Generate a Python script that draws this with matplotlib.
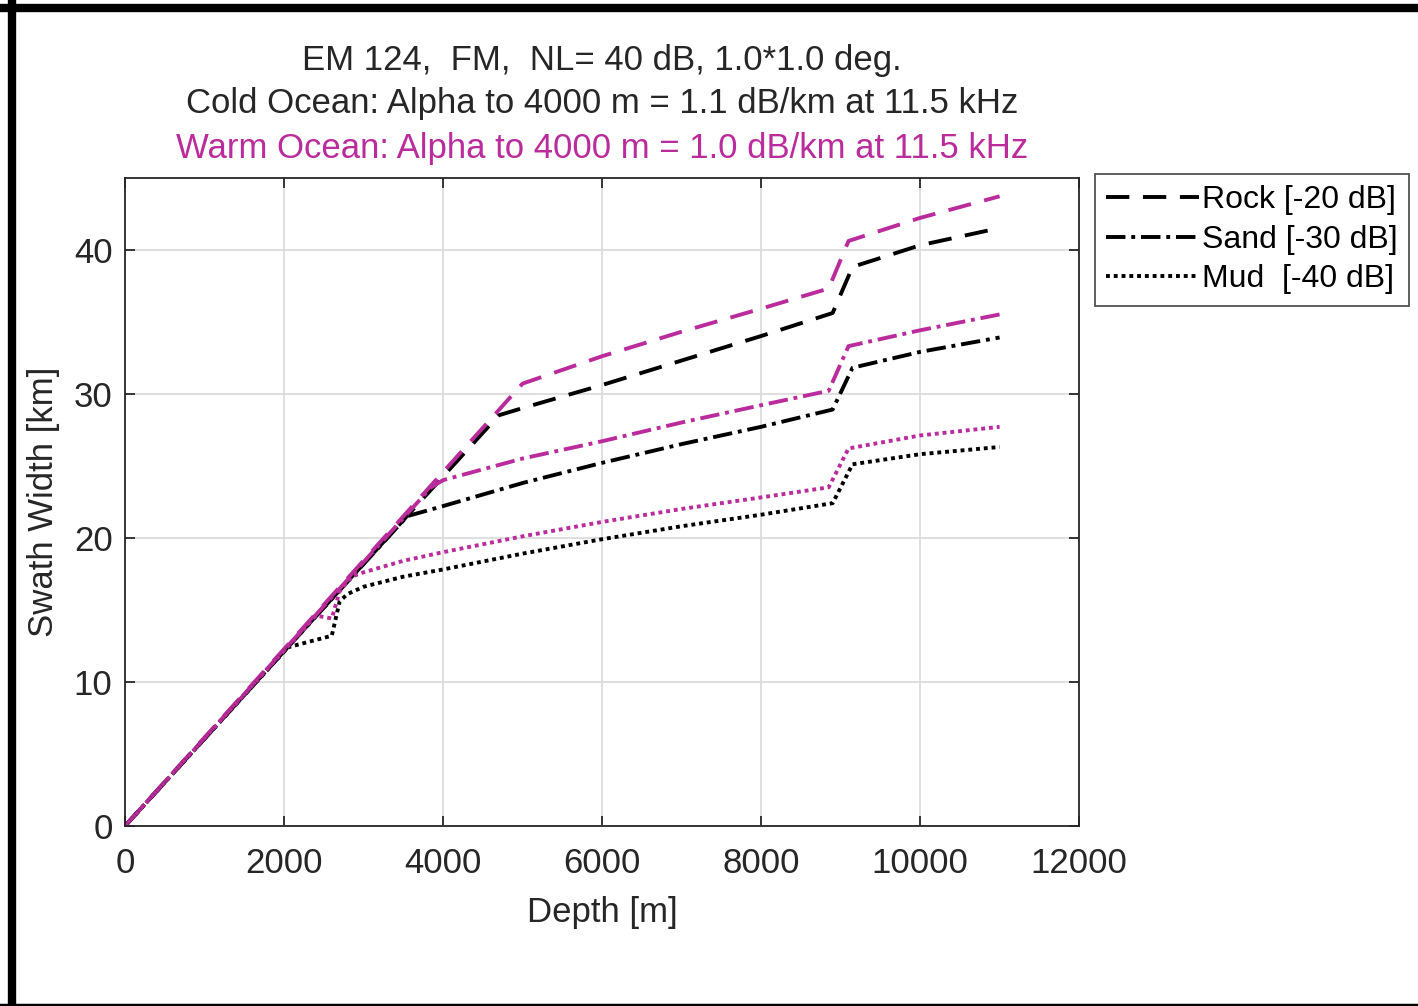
import numpy as np
import matplotlib.pyplot as plt
from matplotlib.lines import Line2D

# depth [m] / swath width [km]
rock_cold_x = [0, 4700, 5000, 6000, 7000, 8000, 8900, 9150, 10000, 11000]
rock_cold_y = [0, 28.5, 29.0, 30.6, 32.3, 34.0, 35.6, 38.8, 40.3, 41.5]
rock_warm_x = [0, 5000, 6000, 7000, 8000, 8850, 9100, 10000, 11000]
rock_warm_y = [0, 30.7, 32.6, 34.3, 35.9, 37.3, 40.6, 42.2, 43.7]

sand_cold_x = [0, 3550, 4000, 5000, 6000, 7000, 8000, 8900, 9150, 10000, 11000]
sand_cold_y = [0, 21.5, 22.2, 23.8, 25.2, 26.5, 27.7, 28.9, 31.8, 32.9, 33.9]
sand_warm_x = [0, 3850, 4000, 5000, 6000, 7000, 8000, 8850, 9100, 10000, 11000]
sand_warm_y = [0, 23.5, 24.0, 25.5, 26.7, 28.0, 29.2, 30.2, 33.3, 34.4, 35.5]

mud_cold_x = [0, 2050, 2600, 2700, 2800, 3000, 3500, 4000, 5000, 6000, 7000, 8000, 8900, 9150, 10000, 11000]
mud_cold_y = [0, 12.4, 13.2, 15.6, 16.1, 16.6, 17.3, 17.8, 18.9, 19.9, 20.8, 21.6, 22.4, 25.1, 25.8, 26.3]
mud_warm_x = [0, 2400, 2600, 2700, 2850, 3000, 3500, 4000, 5000, 6000, 7000, 8000, 8850, 9100, 10000, 11000]
mud_warm_y = [0, 14.6, 14.4, 16.3, 17.3, 17.6, 18.4, 19.0, 20.1, 21.1, 22.0, 22.8, 23.5, 26.2, 27.1, 27.7]

labels = ['Rock [-20 dB]', 'Sand [-30 dB]', 'Mud  [-40 dB]']

plt.rcParams['font.family'] = ['Liberation Sans', 'DejaVu Sans']
magenta = '#BA2B9B'
dark = '#262626'
fs = 25
lw = 2.8
styles = [(0, (6, 3.5)), (0, (5, 1.5, 1, 1.5)), (0, (1, 1))]

fig = plt.figure(figsize=(14.18, 10.06), dpi=100)
ax = fig.add_axes([0.0882, 0.179, 0.6728, 0.6445])

series = [(rock_cold_x, rock_cold_y, rock_warm_x, rock_warm_y),
          (sand_cold_x, sand_cold_y, sand_warm_x, sand_warm_y),
          (mud_cold_x, mud_cold_y, mud_warm_x, mud_warm_y)]
for (cx, cy, wx, wy), ls in zip(series, styles):
    ax.plot(cx, cy, color='black', lw=lw, linestyle=ls)
    ax.plot(wx, wy, color=magenta, lw=lw, linestyle=ls)

ax.set_xlim(0, 12000)
ax.set_ylim(0, 45)
ax.set_xticks(np.arange(0, 12001, 2000))
ax.set_yticks(np.arange(0, 41, 10))
ax.grid(True, color='#dcdcdc', lw=1.3)
ax.set_axisbelow(True)
ax.tick_params(direction='in', length=7, width=1.3, top=True, right=True,
               labelsize=fs, colors=dark, pad=9)
ax.tick_params(axis='x', pad=15)
for s in ax.spines.values():
    s.set_color(dark)
    s.set_linewidth(1.3)
ax.set_xlabel('Depth [m]', fontsize=fs, color=dark, labelpad=12)
ax.set_ylabel('Swath Width [km]', fontsize=fs, color=dark, labelpad=10)

handles = [Line2D([], [], color='black', lw=lw, linestyle=ls) for ls in styles]
leg = fig.legend(handles, labels, loc='upper left', bbox_to_anchor=(0.772, 0.827),
                 fontsize=23, frameon=True, fancybox=False, edgecolor=dark,
                 handlelength=2.9, handletextpad=0.12, borderpad=0.35,
                 labelspacing=0.3, borderaxespad=0)
leg.get_frame().set_linewidth(1.3)

fig.text(0.4245, 0.940, 'EM 124,  FM,  NL= 40 dB, 1.0*1.0 deg.', ha='center', va='center',
         fontsize=fs, color=dark)
fig.text(0.4245, 0.897, 'Cold Ocean: Alpha to 4000 m = 1.1 dB/km at 11.5 kHz', ha='center',
         va='center', fontsize=fs, color=dark)
fig.text(0.4245, 0.852, 'Warm Ocean: Alpha to 4000 m = 1.0 dB/km at 11.5 kHz', ha='center',
         va='center', fontsize=fs, color=magenta)

# black frame on top, left and bottom
fig.add_artist(Line2D([0, 1], [1 - 8 / 1006, 1 - 8 / 1006], color='black', lw=6))
fig.add_artist(Line2D([12 / 1418, 12 / 1418], [0, 1], color='black', lw=6))
fig.add_artist(Line2D([0, 1], [1.5 / 1006, 1.5 / 1006], color='black', lw=2.5))

fig.savefig('out.png', dpi=100)
